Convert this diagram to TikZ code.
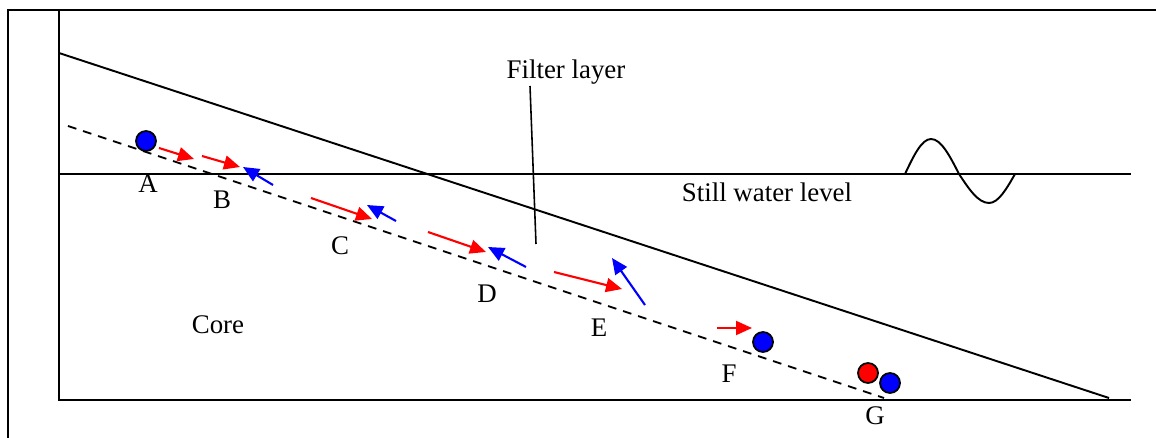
\documentclass[tikz,border=0pt]{standalone}
\usepackage{fontspec}
\setmainfont{Liberation Serif}
\usetikzlibrary{arrows.meta}
\tikzset{
    wall/.style = {line width=1.1pt},
    seep/.style = {line width=1pt, dash pattern=on 5pt off 4pt},
    label/.style = {font=\fontsize{15.3}{17}\selectfont, inner sep=0pt},
    ball/.style = {circle, draw=black, line width=1pt, minimum size=0.4cm, inner sep=0pt},
    push/.style = {red, line width=1.2pt, -{Triangle[length=0.32cm,width=0.28cm]}},
    pull/.style = {blue, line width=1.2pt, -{Triangle[length=0.32cm,width=0.28cm]}}
}

\begin{document}
\begin{tikzpicture}[x=0.02cm, y=-0.02cm]

\useasboundingbox (0,0) rectangle (1156,438);

% frame and dam outline
\draw [wall] (8,438) -- (8,10) -- (1156,10);
\draw [wall] (59,10) -- (59,400) -- (1131,400);
\draw [wall] (59,53) -- (1109,398);
\draw [wall] (59,174) -- (1131,174);
\draw [seep] (68,126) -- (884,398);

% wave
\draw [wall] (905,174) sin (931,139) cos (959,174) sin (989,203) cos (1015,174);

% labels
\node (filter) [label] at (566,72) {Filter layer};
\node (level) [label] at (767,192) {Still water level};
\node (core) [label] at (218,325) {Core};
\node (A) [label] at (148,184) {A};
\node (B) [label] at (222,200) {B};
\node (C) [label] at (340,246) {C};
\node (D) [label] at (487,294) {D};
\node (E) [label] at (599,328) {E};
\node (F) [label] at (729,374) {F};
\node (G) [label] at (875,416) {G};

\coordinate (filtertop) at (530,86);
\coordinate (filterend) at (536,244);
\draw [line width=0.9pt] (filtertop) -- (filterend);

% particles
\node (ballA) [ball, fill=blue] at (146,141) {};
\node (ballF) [ball, fill=blue] at (763,342) {};
\node (ballGr) [ball, fill=red] at (868,373) {};
\node (ballGb) [ball, fill=blue] at (890,383) {};

% flow arrows
\coordinate (r1s) at (159,148);  \coordinate (r1e) at (194,159);
\coordinate (r2s) at (202,156);  \coordinate (r2e) at (240,167);
\coordinate (r3s) at (311,198);  \coordinate (r3e) at (372,219);
\coordinate (r4s) at (428,232);  \coordinate (r4e) at (486,252);
\coordinate (r5s) at (554,272);  \coordinate (r5e) at (622,289);
\coordinate (r6s) at (717,328);  \coordinate (r6e) at (752,328);
\coordinate (b1s) at (273,185);  \coordinate (b1e) at (243,167);
\coordinate (b2s) at (396,221);  \coordinate (b2e) at (367,205);
\coordinate (b3s) at (526,267);  \coordinate (b3e) at (488,247);
\coordinate (b4s) at (645,305);  \coordinate (b4e) at (612,258);

\draw [push] (r1s) -- (r1e);
\draw [push] (r2s) -- (r2e);
\draw [push] (r3s) -- (r3e);
\draw [push] (r4s) -- (r4e);
\draw [push] (r5s) -- (r5e);
\draw [push] (r6s) -- (r6e);
\draw [pull] (b1s) -- (b1e);
\draw [pull] (b2s) -- (b2e);
\draw [pull] (b3s) -- (b3e);
\draw [pull] (b4s) -- (b4e);

\end{tikzpicture}
\end{document}
